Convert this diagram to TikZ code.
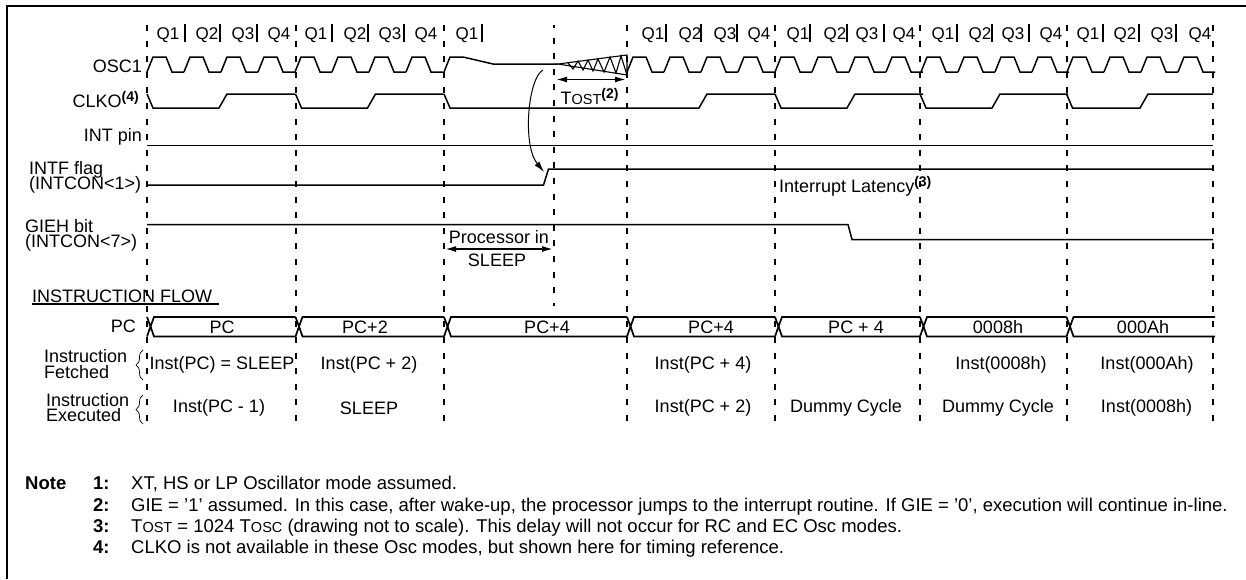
\documentclass[tikz,border=0pt]{standalone}
\usepackage{fontspec}
\setmainfont{Liberation Sans}
\usepackage{tikz}
\usetikzlibrary{arrows.meta,decorations.pathreplacing}

\newcommand{\oscwave}[1]{% four clock periods from x=#1
  \foreach \n in {0,1,2,3}{
    \draw[wave] ({#1+37*\n},72) -- ({#1+37*\n+6},57) -- ({#1+37*\n+19},57) -- ({#1+37*\n+25},72) -- ({#1+37*\n+37},72);
  }}
\newcommand{\clkwave}[1]{% one CLKO period from x=#1
  \draw[wave] (#1,94) -- ({#1+6},108) -- ({#1+72},108) -- ({#1+80},94) -- ({#1+148},94);
}
\newcommand{\buscross}[2]{% bus cell from #1 to #2
  \draw[bus] (#1,317) -- ({#1+3.5},326.5) -- ({#1+7},317) -- (#2,317);
  \draw[bus] (#1,336.5) -- ({#1+3.5},326.5) -- ({#1+7},336.5) -- (#2,336.5);
}
\newcommand{\supnum}[1]{\textbf{\raisebox{6pt}{\fontsize{14}{14}\selectfont(#1)}}}
\newcommand{\sq}{\char39 }

\begin{document}
\begin{tikzpicture}[
  x=1pt, y=-1pt,
  font=\fontsize{18}{18}\selectfont,
  >={Latex[length=11pt,width=6pt]},
  wave/.style={line width=1.5pt, line join=miter},
  bus/.style={line width=1.7pt},
  guide/.style={line width=2pt, dash pattern=on 6pt off 9.6pt},
  tick/.style={line width=1.5pt},
  lbl/.style={inner sep=0pt, anchor=east},
  lbll/.style={inner sep=0pt, anchor=west},
  ctr/.style={inner sep=0pt, anchor=center},
  note/.style={inner sep=0pt, anchor=base west, font=\fontsize{18.5}{18.5}\selectfont},
  notehead/.style={note, font=\fontsize{18.5}{18.5}\selectfont\bfseries},
  bracket/.style={decorate, decoration={brace,amplitude=7pt}, line width=0.7pt}
]
  \useasboundingbox (0,0) rectangle (1246,579);
  \draw[line width=2pt] (6.5,579) -- (6.5,5.5) -- (1246,5.5);

  % guides
  \foreach \x in {147,295.5,444,627,775,920,1066.5,1213}
    \draw[guide] (\x,25) -- (\x,426);
  \draw[guide, dash phase=3pt] (554,25) -- (554,306);

  % Q phases
  \foreach \x/\t in {168/Q1,207/Q2,243/Q3,279/Q4,316/Q1,355/Q2,390/Q3,426/Q4,467/Q1,
      653/Q1,690/Q2,725/Q3,759/Q4,798/Q1,835/Q2,867/Q3,904/Q4,
      943/Q1,980/Q2,1013/Q3,1051/Q4,1088/Q1,1125/Q2,1162/Q3,1200/Q4}
    \node[ctr, font=\fontsize{17}{17}\selectfont] (ph\x) at (\x,35) {\t};
  \foreach \x in {185,220,257,332,368,404,482,666,701,737,810,847,884,957,992,1029,1103,1139,1176}
    \draw[tick] (\x,24) -- (\x,42);

  % OSC1
  \node[lbl] (osc) at (142,66) {OSC1};
  \oscwave{147}
  \oscwave{295}
  \draw[wave] (444,72) -- (450,57) -- (463,57) -- (493,64) -- (558,64);
  \draw[line width=1.1pt] (558,64) -- (627,55) -- (627,75) -- cycle;
  \draw[line width=1.1pt] (568,63) -- (573,69) -- (578,61) -- (583,70) -- (588,60)
    -- (593,71) -- (598,59) -- (604,72) -- (610,57) -- (616,73) -- (621,56) -- (627,75);
  \oscwave{627}
  \oscwave{775}
  \oscwave{921}
  \oscwave{1067}
  \node[coordinate] (wakeup) at (543,70) {};
  \node[coordinate] (rise) at (544,172) {};
  \draw[->, line width=1pt] (wakeup) .. controls (528,78) and (522,145) .. (rise);
  \node[coordinate] (ostl) at (556,79.5) {};
  \node[coordinate] (ostr) at (626,79.5) {};
  \draw[<->, line width=1.6pt] (ostl) -- (ostr);
  \node[ctr] (tost) at (589.5,96) {T{\fontsize{14.5}{14.5}\selectfont OST}\supnum{2}};

  % CLKO
  \node[lbl] (clko) at (139,100) {CLKO\supnum{4}};
  \clkwave{147}
  \clkwave{295.5}
  \draw[wave] (444,94) -- (450,108) -- (699,108) -- (707,94) -- (775,94);
  \clkwave{775}
  \clkwave{920}
  \draw[wave] (1066.5,94) -- (1072.5,108) -- (1140,108) -- (1148,94) -- (1213,94);

  % INT pin
  \node[lbl] (intpin) at (142,137) {INT pin};
  \draw[wave] (147,145.5) -- (1213,145.5);

  % INTF flag
  \node[lbll] (intf) at (29,170) {INTF flag};
  \node[lbll] (intcona) at (29,185) {(INTCON<1>)};
  \draw[wave] (147,185) -- (543.5,185) -- (548.5,169) -- (1213,169);
  \node[lbll] (latency) at (779,186) {Interrupt Latency\supnum{3}};

  % GIEH bit
  \node[lbll] (gieh) at (25,226) {GIEH bit};
  \node[lbll] (intconb) at (25,243) {(INTCON<7>)};
  \draw[wave] (147,224.5) -- (848,224.5) -- (852,239.5) -- (1213,239.5);
  \node[ctr] (procin) at (499,237) {Processor in};
  \node[ctr] (sleep) at (497,260) {SLEEP};
  \node[coordinate] (slpl) at (445,249) {};
  \node[coordinate] (slpr) at (553,249) {};
  \draw[<->, line width=1.6pt] (slpl) -- (slpr);

  % instruction flow
  \node[lbll] (flow) at (32,296) {INSTRUCTION FLOW};
  \draw[line width=1.2pt] (32,304) -- (219,304);
  \node[lbl] (pc) at (136,326) {PC};
  \buscross{147}{295.5}
  \buscross{295.5}{444}
  \buscross{444}{627}
  \buscross{627}{775}
  \buscross{775}{920}
  \buscross{920}{1066.5}
  \buscross{1066.5}{1215}
  \foreach \x/\t in {222/PC,365/PC+2,547/PC+4,711/PC+4,856/PC + 4,998/0008h,1143/000Ah}
    \node[ctr] at (\x,327) {\t};

  % fetched and executed
  \node[lbll] (fetch) at (44,356) {Instruction};
  \node[lbll] (fetchb) at (44,372) {Fetched};
  \draw[bracket] (143,380) -- (143,350);
  \foreach \x/\t in {222/{Inst(PC) = SLEEP},369/{Inst(PC + 2)},703/{Inst(PC + 4)},1001/{Inst(0008h)},1147/{Inst(000Ah)}}
    \node[ctr] at (\x,365) {\t};
  \node[lbll] (exec) at (46,400) {Instruction};
  \node[lbll] (execb) at (46,415) {Executed};
  \draw[bracket] (143,424) -- (143,395);
  \foreach \x/\t in {219/{Inst(PC - 1)},369/{SLEEP},703/{Inst(PC + 2)},846/{Dummy Cycle},998/{Dummy Cycle},1146.5/{Inst(0008h)}}
    \node[ctr] at (\x,408) {\t};

  % notes
  \node[notehead] (notehd) at (25,489) {Note};
  \foreach \y/\n in {489/1:,511/2:,532/3:,553/4:}
    \node[notehead] at (93,\y) {\n};
  \node[note] (notea) at (131,489) {XT, HS or LP Oscillator mode assumed.};
  \node[note] (noteb) at (131,511) {GIE = \sq1\sq{} assumed. In this case, after wake-up, the processor jumps to the interrupt routine. If GIE = \sq0\sq, execution will continue in-line.};
  \node[note] (notec) at (131,532) {T{\fontsize{14.5}{14.5}\selectfont OST} = 1024 T{\fontsize{14.5}{14.5}\selectfont OSC} (drawing not to scale). This delay will not occur for RC and EC Osc modes.};
  \node[note] (noted) at (131,553) {CLKO is not available in these Osc modes, but shown here for timing reference.};
\end{tikzpicture}
\end{document}
